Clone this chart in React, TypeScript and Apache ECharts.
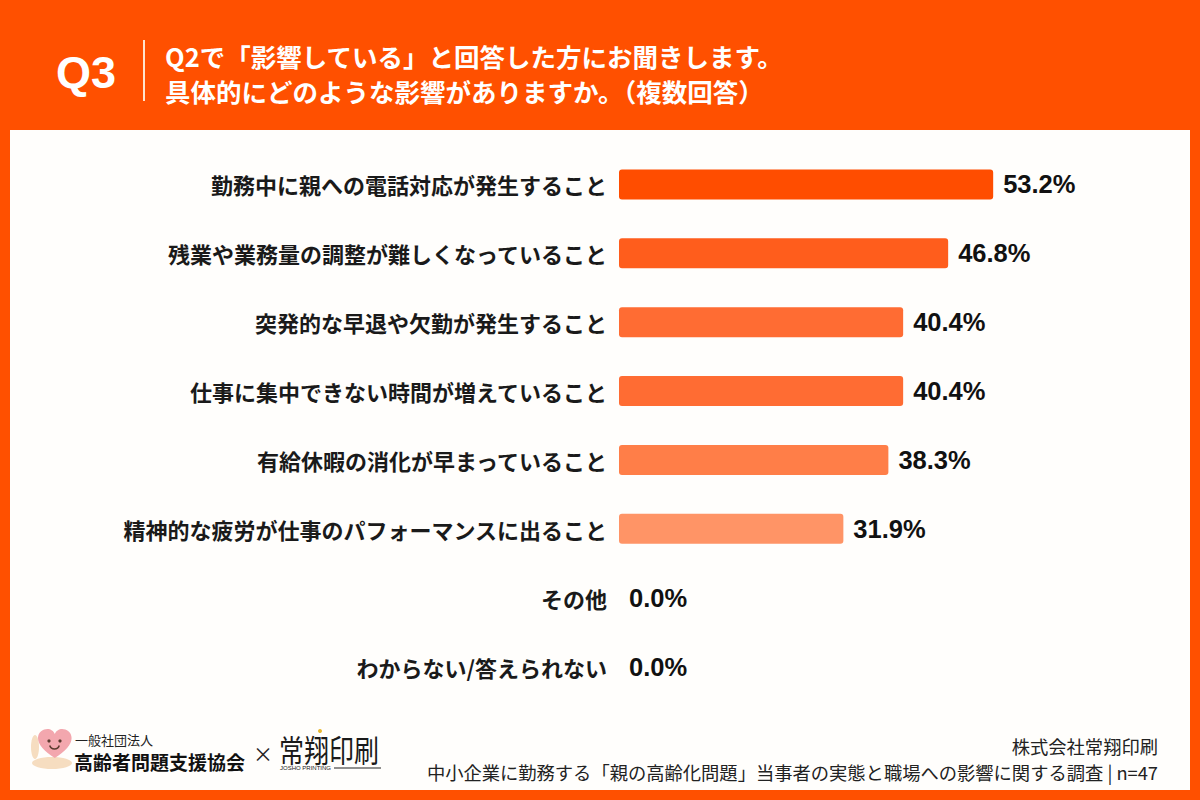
import React, { useEffect, useRef } from "react";
import * as echarts from "echarts";

// Survey answers (multiple choice), share of respondents in %
const categories = [
  "勤務中に親への電話対応が発生すること",
  "残業や業務量の調整が難しくなっていること",
  "突発的な早退や欠勤が発生すること",
  "仕事に集中できない時間が増えていること",
  "有給休暇の消化が早まっていること",
  "精神的な疲労が仕事のパフォーマンスに出ること",
  "その他",
  "わからない/答えられない",
];
const values = [53.2, 46.8, 40.4, 40.4, 38.3, 31.9, 0.0, 0.0];
const barColors = [
  "#FF4D00",
  "#FF5D1C",
  "#FF6C33",
  "#FF6C33",
  "#FF7E48",
  "#FF9466",
  "#FFA57E",
  "#FFA57E",
];

const titleLines = [
  "Q2で「影響している」と回答した方にお聞きします。",
  "具体的にどのような影響がありますか。（複数回答）",
];
const sourceLines = [
  "株式会社常翔印刷",
  "中小企業に勤務する「親の高齢化問題」当事者の実態と職場への影響に関する調査 | n=47",
];

const JP = '"Noto Sans CJK JP", "Noto Sans", sans-serif';
const LATIN = '"Liberation Sans", Arial, sans-serif';
const ORANGE = "#FF5000";

echarts.graphic.registerShape(
  "heart",
  echarts.graphic.extendPath(
    "M16 29 C6 22 0 16 0 9 C0 3 5 0 9 0 C12 0 15 2 16 5 C17 2 20 0 23 0 C27 0 32 3 32 9 C32 16 26 22 16 29 Z",
    {}
  )
);

export default function App() {
  const ref = useRef<HTMLDivElement>(null);

  useEffect(() => {
    document.body.style.margin = "0";
    if (!ref.current) return;
    const chart = echarts.init(ref.current, null, { renderer: "svg" });

    chart.setOption({
      animation: false,
      backgroundColor: ORANGE,
      grid: { left: 619, right: 159, top: 150, bottom: 99, containLabel: false },
      xAxis: {
        type: "value",
        min: 0,
        max: 60,
        show: false,
      },
      yAxis: {
        type: "category",
        inverse: true,
        data: categories,
        axisLine: { show: false },
        axisTick: { show: false },
        splitLine: { show: false },
        axisLabel: {
          margin: 12,
          fontFamily: JP,
          fontWeight: "bold",
          fontSize: 22,
          color: "#1a1a1a",
        },
      },
      series: [
        {
          type: "bar",
          barWidth: 30,
          data: values.map((v, i) => ({
            value: v,
            itemStyle: { color: barColors[i], borderRadius: 3 },
          })),
          label: {
            show: true,
            position: "right",
            distance: 10,
            formatter: (p: any) => `${Number(p.value).toFixed(1)}%`,
            fontFamily: LATIN,
            fontWeight: "bold",
            fontSize: 25.5,
            color: "#111111",
          },
        },
      ],
      graphic: [
        // white content panel
        {
          type: "rect",
          z: -10,
          shape: { x: 10, y: 130, width: 1180, height: 660 },
          style: { fill: "#FFFEFC" },
        },
        // question number and divider
        {
          type: "text",
          x: 86,
          y: 72,
          style: {
            text: "Q3",
            fontFamily: LATIN,
            fontWeight: "bold",
            fontSize: 45,
            fill: "#FFFFFF",
            align: "center",
            verticalAlign: "middle",
          },
        },
        {
          type: "line",
          shape: { x1: 144, y1: 40, x2: 144, y2: 101 },
          style: { stroke: "#FFE3CC", lineWidth: 2 },
        },
        ...titleLines.map((t, i) => ({
          type: "text",
          x: 165,
          y: 55.5 + i * 35,
          style: {
            text: t,
            fontFamily: JP,
            fontWeight: "bold",
            fontSize: 25.5,
            lineHeight: 30,
            fill: "#FFFFFF",
            align: "left",
            verticalAlign: "middle",
          },
        })),
        // source notes
        ...sourceLines.map((t, i) => ({
          type: "text",
          x: 1158,
          y: 746 + i * 26,
          style: {
            text: t,
            fontFamily: JP,
            fontSize: 18.3,
            lineHeight: 22,
            fill: "#222222",
            align: "right",
            verticalAlign: "middle",
          },
        })),
        // association mark: hands holding a smiling heart
        {
          type: "group",
          x: 30,
          y: 725,
          children: [
            {
              type: "ellipse",
              shape: { cx: 22, cy: 38, rx: 20, ry: 6 },
              style: { fill: "#F6DDC0" },
            },
            {
              type: "ellipse",
              shape: { cx: 5, cy: 22, rx: 4, ry: 12 },
              style: { fill: "#F6DDC0" },
            },
            {
              type: "heart",
              x: 8,
              y: 4,
              scaleX: 1.05,
              scaleY: 1.0,
              style: { fill: "#F3A7AE" },
            },
            {
              type: "circle",
              shape: { cx: 19, cy: 16, r: 1.6 },
              style: { fill: "#5A3A2E" },
            },
            {
              type: "circle",
              shape: { cx: 30, cy: 16, r: 1.6 },
              style: { fill: "#5A3A2E" },
            },
            {
              type: "arc",
              shape: { cx: 24.5, cy: 19, r: 5, startAngle: 0.3, endAngle: Math.PI - 0.3 },
              style: { stroke: "#5A3A2E", lineWidth: 1.5, fill: "none" },
            },
          ],
        },
        {
          type: "text",
          x: 75,
          y: 739,
          style: {
            text: "一般社団法人",
            fontFamily: JP,
            fontSize: 13,
            lineHeight: 14,
            fill: "#222222",
            verticalAlign: "middle",
          },
        },
        {
          type: "text",
          x: 74,
          y: 761,
          style: {
            text: "高齢者問題支援協会",
            fontFamily: JP,
            fontWeight: "bold",
            fontSize: 19,
            lineHeight: 22,
            fill: "#111111",
            verticalAlign: "middle",
          },
        },
        {
          type: "text",
          x: 263,
          y: 753,
          style: {
            text: "×",
            fontFamily: JP,
            fontSize: 20,
            fill: "#222222",
            align: "center",
            verticalAlign: "middle",
          },
        },
        // printing company wordmark
        {
          type: "text",
          x: 279,
          y: 748,
          scaleY: 1.25,
          originX: 0,
          originY: 0,
          style: {
            text: "常翔印刷",
            fontFamily: JP,
            fontWeight: "normal",
            fontSize: 25,
            lineHeight: 26,
            fill: "#1a1a1a",
            verticalAlign: "middle",
          },
        },
        {
          type: "text",
          x: 280,
          y: 768,
          style: {
            text: "JOSHO PRINTING",
            fontFamily: LATIN,
            fontSize: 6,
            fill: "#222222",
            verticalAlign: "middle",
          },
        },
        {
          type: "line",
          shape: { x1: 334, y1: 768, x2: 381, y2: 768 },
          style: { stroke: "#222222", lineWidth: 1.2 },
        },
        {
          type: "circle",
          shape: { cx: 320, cy: 731, r: 2 },
          style: { fill: "#E8B830" },
        },
      ],
    });

    return () => chart.dispose();
  }, []);

  return <div ref={ref} style={{ width: 1200, height: 800 }} />;
}
